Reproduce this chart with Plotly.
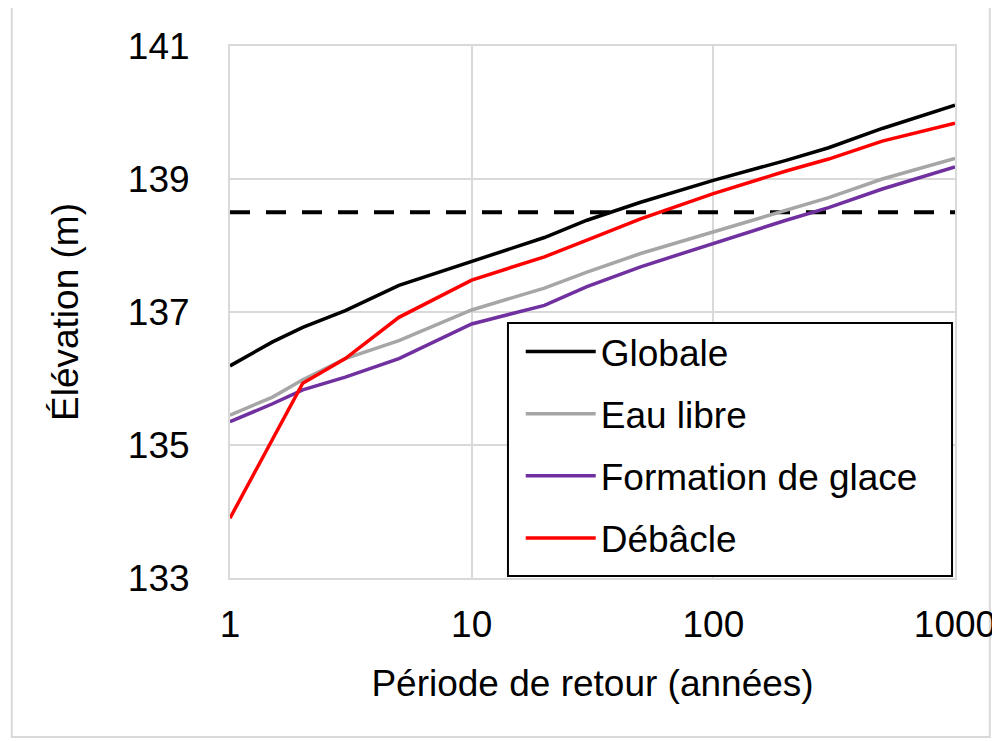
import plotly.graph_objects as go

# Return periods (years)
periods = [1, 1.5, 2, 3, 5, 10, 20, 30, 50, 100, 200, 300, 500, 1000]

globale = [136.19, 136.55, 136.77, 137.02, 137.40, 137.76, 138.12, 138.38, 138.65,
           138.98, 139.28, 139.47, 139.76, 140.11]
eau_libre = [135.45, 135.72, 135.98, 136.30, 136.57, 137.03, 137.36, 137.60, 137.88,
             138.21, 138.53, 138.72, 139.00, 139.31]
formation = [135.35, 135.62, 135.83, 136.02, 136.30, 136.82, 137.10, 137.38, 137.68,
             138.03, 138.38, 138.57, 138.85, 139.18]
debacle_periods = [1, 2, 3, 5, 10, 20, 30, 50, 100, 200, 300, 500, 1000]
debacle = [133.90, 135.93, 136.30, 136.92, 137.48, 137.83, 138.08, 138.40,
           138.78, 139.12, 139.30, 139.57, 139.84]

seuil_periods = [1, 1000]
seuil = [138.5, 138.5]

series_names = ["Globale", "Eau libre", "Formation de glace", "Débâcle"]
series_colors = ["#000000", "#a6a6a6", "#7030a0", "#ff0000"]

x_ticks = [1, 10, 100, 1000]
y_ticks = [133, 135, 137, 139, 141]

FONT = "Arial, Liberation Sans, sans-serif"

fig = go.Figure()

fig.add_trace(go.Scatter(x=seuil_periods, y=seuil, mode="lines",
                         line=dict(color="#000000", width=4, dash="20px,16px"),
                         showlegend=False, hoverinfo="skip"))

data = [(periods, globale), (periods, eau_libre), (periods, formation),
        (debacle_periods, debacle)]
for name, color, (xs, ys) in zip(series_names, series_colors, data):
    fig.add_trace(go.Scatter(x=xs, y=ys, mode="lines", name=name,
                             legendgroup=name,
                             line=dict(color=color, width=3.5)))

fig.update_layout(
    width=992, height=733,
    margin=dict(l=222, r=45, t=38, b=163, autoexpand=False),
    paper_bgcolor="white", plot_bgcolor="white",
    font=dict(family=FONT, size=37, color="#000000"),
    legend=dict(x=0.401, y=0.483, xanchor="left", yanchor="top",
                bgcolor="rgba(0,0,0,0)", borderwidth=0,
                font=dict(family=FONT, size=37, color="#000000"),
                itemwidth=70, tracegroupgap=11),
    shapes=[
        dict(type="rect", xref="paper", yref="paper",
             x0=-0.301, x1=1.048, y0=-0.299, y1=1.077,
             line=dict(color="#d9d9d9", width=2), fillcolor="rgba(0,0,0,0)",
             layer="below"),
        dict(type="rect", xref="paper", yref="paper",
             x0=0.3834, x1=0.9959, y0=0.0038, y1=0.4793,
             line=dict(color="#000000", width=2), fillcolor="white",
             layer="above"),
    ],
)

fig.update_xaxes(type="log", range=[0, 3], tickvals=x_ticks,
                 ticktext=[str(v) for v in x_ticks],
                 showgrid=True, gridcolor="#d9d9d9", gridwidth=2,
                 showline=True, linecolor="#d9d9d9", linewidth=2, mirror=True,
                 ticks="", ticklabelstandoff=13, zeroline=False, automargin=False,
                 ticklabeloverflow="allow",
                 title=dict(text="Période de retour (années)", standoff=26,
                            font=dict(family=FONT, size=37)))
fig.update_yaxes(range=[133, 141], tickvals=y_ticks,
                 showgrid=True, gridcolor="#d9d9d9", gridwidth=2,
                 showline=True, linecolor="#d9d9d9", linewidth=2, mirror=True,
                 ticks="", ticklabelstandoff=31, zeroline=False, automargin=False,
                 title=dict(text="Élévation (m)", standoff=38,
                            font=dict(family=FONT, size=37)))

fig.write_html("out.html")
